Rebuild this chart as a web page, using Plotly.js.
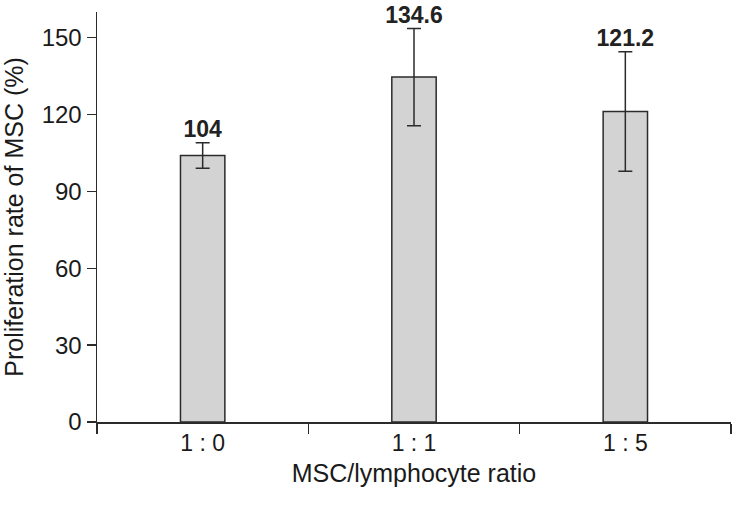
<!DOCTYPE html>
<html>
<head>
<meta charset="utf-8">
<script src="https://cdn.plot.ly/plotly-3.0.1.min.js"></script>
<style>
  html, body { margin: 0; padding: 0; background: #fff; }
  #chart { width: 734px; height: 512px; }
</style>
</head>
<body>
<div id="chart"></div>
<script>
// MSC proliferation vs lymphocyte ratio
const ratios = ["1 : 0", "1 : 1", "1 : 5"];
const rates = [104, 134.6, 121.2];
const errors = [5, 19, 23.3];
const rateLabels = ["104", "134.6", "121.2"];

const ink = "#2b2b2b";
const font = "Liberation Sans, Arial, sans-serif";

const bars = {
    x: ratios,
    y: rates,
    type: "bar",
    width: 0.21,
    marker: { color: "#d3d3d3", line: { color: ink, width: 1.5 } },
    error_y: { type: "data", array: errors, visible: true, color: ink, thickness: 1.5, width: 7 },
    hoverinfo: "skip"
};

// value labels sit just above the error bar caps
const labels = {
    x: ratios,
    y: rates.map((v, i) => v + errors[i]),
    type: "scatter",
    mode: "text",
    text: rateLabels.map(t => "<b>" + t + "</b>"),
    textposition: "top center",
    textfont: { family: font, size: 23, color: "#222" },
    cliponaxis: false,
    hoverinfo: "skip"
};

const layout = {
    width: 734,
    height: 512,
    margin: { l: 97, r: 3, t: 12, b: 90 },
    paper_bgcolor: "#fff",
    plot_bgcolor: "#fff",
    showlegend: false,
    font: { family: font, color: "#1a1a1a" },
    xaxis: {
        type: "category",
        tickson: "boundaries",
        ticks: "outside",
        ticklen: 10,
        tickcolor: ink,
        tickwidth: 1.5,
        showline: true,
        linecolor: ink,
        linewidth: 1.5,
        showgrid: false,
        zeroline: false,
        tickfont: { size: 23, family: font },
        title: { text: "MSC/lymphocyte ratio", font: { size: 25, family: font }, standoff: 9 }
    },
    yaxis: {
        range: [0, 160],
        tickvals: [0, 30, 60, 90, 120, 150],
        ticks: "outside",
        ticklen: 9,
        tickcolor: ink,
        tickwidth: 1.5,
        showline: true,
        linecolor: ink,
        linewidth: 1.5,
        showgrid: false,
        zeroline: false,
        tickfont: { size: 24, family: font },
        title: { text: "Proliferation rate of MSC (%)", font: { size: 25, family: font }, standoff: 13 }
    }
};

Plotly.newPlot("chart", [bars, labels], layout, { staticPlot: true });
</script>
</body>
</html>
